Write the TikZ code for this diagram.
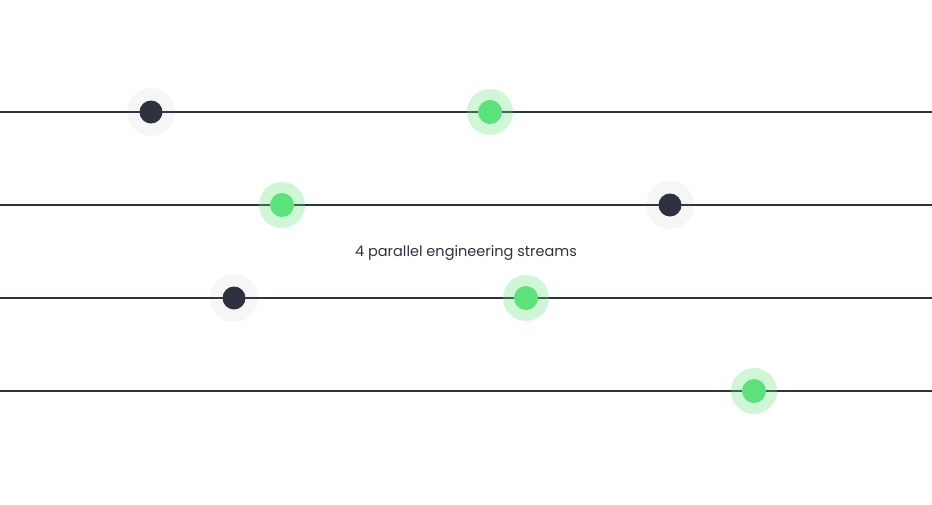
\documentclass[tikz,border=0pt]{standalone}
\usepackage{fontspec}
\setmainfont{Poppins}
\definecolor{dark}{HTML}{2E3140}
\definecolor{grn}{HTML}{5CE27A}
\begin{document}
\begin{tikzpicture}[x=1pt,y=-1pt,
  lane/.style={draw=dark,line width=1.2pt},
  darkdot/.style={circle,fill=dark,minimum size=23pt,inner sep=0pt,
    append after command={\pgfextra{\fill[gray!8,opacity=0.6] (\tikzlastnode.center) circle (24);}}},
  halo/.style={fill=gray,fill opacity=0.07},
  ghalo/.style={fill=grn,fill opacity=0.3},
  dnode/.style={circle,fill=dark,minimum size=23pt,inner sep=0pt},
  gnode/.style={circle,fill=grn,minimum size=24pt,inner sep=0pt}]
\useasboundingbox (0,0) rectangle (932,504);
\foreach \y/\n in {112/l1,205/l2,298/l3,391/l4}{
  \coordinate (\n a) at (0,\y); \coordinate (\n b) at (932,\y);
  \draw[lane] (\n a) -- (\n b);}
\foreach \x/\y/\n in {151/112/d1,670/205/d2,234/298/d3}{
  \fill[halo] (\x,\y) circle (24);
  \node[dnode] (\n) at (\x,\y) {};}
\foreach \x/\y/\n in {490/112/g1,282/205/g2,526/298/g3,754/391/g4}{
  \fill[ghalo] (\x,\y) circle (23);
  \node[gnode] (\n) at (\x,\y) {};}
\node[text=dark,font=\fontsize{14.5}{17}\selectfont] (t) at (466,253) {4 parallel engineering streams};
\end{tikzpicture}
\end{document}
